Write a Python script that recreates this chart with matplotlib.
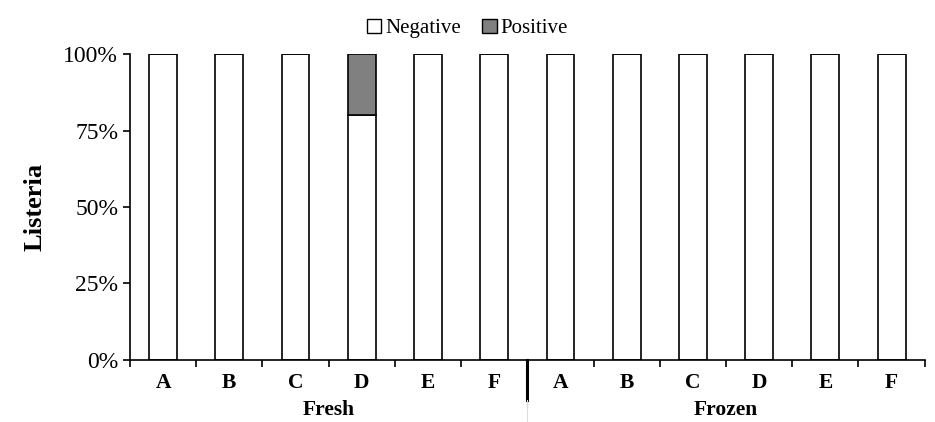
import numpy as np
import matplotlib.pyplot as plt
from matplotlib.patches import Patch

plt.rcParams['font.family'] = 'Liberation Serif'

groups = ['Fresh', 'Frozen']
brands = ['A', 'B', 'C', 'D', 'E', 'F']
negative = [100, 100, 100, 80, 100, 100, 100, 100, 100, 100, 100, 100]
positive = [0, 0, 0, 20, 0, 0, 0, 0, 0, 0, 0, 0]

fig = plt.figure(figsize=(9.35, 4.22), dpi=100)
ax = fig.add_axes([0.139, 0.147, 0.850, 0.725])

x = np.arange(len(negative))
ax.bar(x, negative, width=0.42, color='white', edgecolor='black', linewidth=1.2)
ax.bar(x, positive, width=0.42, bottom=negative, color='#808080', edgecolor='black', linewidth=1.2)

ax.set_xlim(-0.5, len(negative) - 0.5)
ax.set_ylim(0, 100)
ax.set_yticks([0, 25, 50, 75, 100])
ax.set_yticklabels(['0%', '25%', '50%', '75%', '100%'], fontsize=17)
ax.tick_params(axis='y', length=5, width=1.2)
ax.set_xticks(np.arange(-0.5, len(negative)))
ax.set_xticklabels([])
ax.tick_params(axis='x', length=5, width=1.2, direction='out')
for s in ['top', 'right']:
    ax.spines[s].set_visible(False)
ax.spines['left'].set_linewidth(1.2)
ax.spines['bottom'].set_linewidth(1.2)
ax.set_ylabel('Listeria', fontsize=19, fontweight='bold', labelpad=12)

trans = ax.get_xaxis_transform()
for i in x:
    ax.text(i, -0.075, brands[i % 6], transform=trans, ha='center', va='center',
            fontsize=15.5, fontweight='bold')
for g, name in enumerate(groups):
    ax.text(g * 6 + 2.5, -0.165, name, transform=trans, ha='center', va='center',
            fontsize=15.5, fontweight='bold')
ax.plot([5.5, 5.5], [0, -0.13], transform=trans, color='black', lw=2.2, clip_on=False)
ax.plot([5.5, 5.5], [-0.13, -0.2], transform=trans, color='#dddddd', lw=0.8, clip_on=False)

handles = [Patch(facecolor='white', edgecolor='black', label='Negative'),
           Patch(facecolor='#808080', edgecolor='black', label='Positive')]
fig.legend(handles=handles, loc='upper center', bbox_to_anchor=(0.5, 1.0), ncol=2,
           frameon=False, fontsize=15, handlelength=0.7, handleheight=0.7,
           handletextpad=0.2, columnspacing=1.0)

fig.savefig('out.png', dpi=100)
